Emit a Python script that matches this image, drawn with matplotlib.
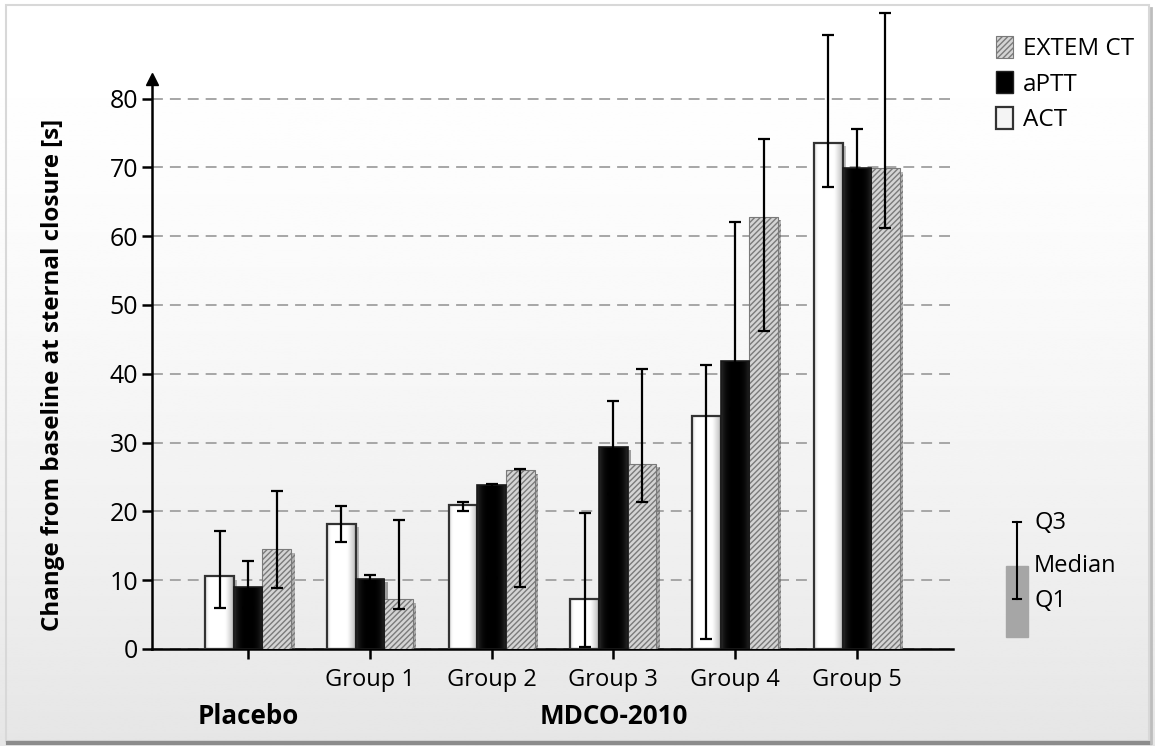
import numpy as np
import matplotlib.pyplot as plt
import matplotlib.patheffects as pe
from matplotlib.patches import Rectangle, Patch
from matplotlib.lines import Line2D

plt.rcParams['font.family'] = ['Open Sans', 'DejaVu Sans']
plt.rcParams['hatch.linewidth'] = 1.0

# medians and quartiles
groups = ['', 'Group 1', 'Group 2', 'Group 3', 'Group 4', 'Group 5']
act = np.array([10.6, 18.2, 21.0, 7.2, 33.8, 73.6])
act_q1 = np.array([5.9, 15.6, 20.0, 0.3, 1.4, 67.2])
act_q3 = np.array([17.1, 20.8, 21.3, 19.8, 41.3, 89.3])
aptt = np.array([9.0, 10.2, 23.8, 29.4, 41.8, 69.9])
aptt_q1 = np.array([5.9, 9.8, 10.3, 22.6, 34.9, 63.6])
aptt_q3 = np.array([12.8, 10.7, 24.0, 36.1, 62.1, 75.6])
extem = np.array([14.5, 7.2, 26.0, 26.9, 62.8, 69.9])
extem_q1 = np.array([8.8, 5.8, 9.0, 21.4, 46.2, 61.2])
extem_q3 = np.array([22.9, 18.8, 26.2, 40.7, 74.1, 92.4])

W, H = 1155, 746
fig = plt.figure(figsize=(W / 100, H / 100), dpi=100)

# background gradient + frame
bg = fig.add_axes([0, 0, 1, 1], zorder=-10)
t = np.linspace(0, 1, 256)
grad = 1 - 0.10 * t ** 1.6
bg.imshow(np.tile(grad[:, None], (1, 2)), cmap='gray', vmin=0, vmax=1,
          aspect='auto', extent=[0, 1, 0, 1])
bg.set_xlim(0, 1)
bg.set_ylim(0, 1)
bg.axis('off')
bg.add_patch(Rectangle((6 / W, 1 - 741 / H), 1143 / W, 736 / H, fill=False,
                       edgecolor='#d8d8d8', lw=1.5))
bg.plot([8 / W, 1150 / W], [1 - 743 / H] * 2, color='#8c8c8c', lw=3)
bg.plot([1151 / W] * 2, [1 - 743 / H, 1 - 8 / H], color='#bdbdbd', lw=2)

ax = fig.add_axes([152 / W, 97 / H, 801 / W, 93 * 6.88 / H])
ax.set_facecolor('none')
x = np.arange(len(groups))
w = 0.235
err = dict(elinewidth=1.6, capthick=1.6, ecolor='black', capsize=4, zorder=6)
shadow = [pe.SimplePatchShadow(offset=(2.5, -2.5), alpha=0.35), pe.Normal()]

b1 = ax.bar(x - w, act, w, color='white', edgecolor='none', zorder=3,
            yerr=[act - act_q1, act_q3 - act], error_kw=err)
b2 = ax.bar(x, aptt, w, color='black', edgecolor='none', zorder=3,
            yerr=[aptt - aptt_q1, aptt_q3 - aptt], error_kw=err)
b3 = ax.bar(x + w, extem, w, color='#d4d4d4', edgecolor='#7a7a7a', lw=0.8,
            hatch='//////', yerr=[extem - extem_q1, extem_q3 - extem],
            error_kw=err, zorder=3)
for b in list(b1) + list(b2) + list(b3):
    b.set_path_effects(shadow)

# bevel-like shading inside the solid bars
u = np.linspace(0, 1, 64)
white_prof = 1 - 0.28 * np.clip((u - 0.68) / 0.32, 0, 1) ** 1.3 \
    - 0.12 * np.clip((0.14 - u) / 0.14, 0, 1)
black_prof = 0.16 * np.abs(2 * u - 1) ** 3
for bars, prof in ((b1, white_prof), (b2, black_prof)):
    for b in bars:
        x0, y0, bw, bh = b.get_x(), b.get_y(), b.get_width(), b.get_height()
        im = ax.imshow(prof[None, :], cmap='gray', vmin=0, vmax=1,
                       extent=[x0, x0 + bw, y0, y0 + bh], aspect='auto',
                       interpolation='bilinear', zorder=3.1)
        im.set_clip_path(b)
ax.bar(x - w, act, w, fill=False, edgecolor='#333333', lw=1.6, zorder=3.2)
ax.bar(x, aptt, w, fill=False, edgecolor='#1a1a1a', lw=1.2, zorder=3.2)

ax.set_xlim(-0.79, 5.79)
ax.set_ylim(0, 93)
ax.set_yticks(np.arange(0, 81, 10))
ax.set_xticks(x)
ax.set_xticklabels(groups)
ax.set_axisbelow(True)
ax.yaxis.grid(True, ls=(0, (5.6, 3.6)), color='#a6a6a6', lw=1.4)
ax.tick_params(axis='y', direction='out', length=7, width=1.8, labelsize=18, pad=3)
ax.tick_params(axis='x', direction='out', length=7, width=1.8, labelsize=17, pad=7)
for s in ['top', 'right']:
    ax.spines[s].set_visible(False)
ax.spines['left'].set_linewidth(1.8)
ax.spines['bottom'].set_linewidth(1.8)
ax.spines['left'].set_bounds(0, 82.5)
ax.plot([0], [82.9], marker='^', ms=9, color='black',
        transform=ax.get_yaxis_transform(), clip_on=False)

ax.text(-0.1236, 0.428, 'Change from baseline at sternal closure [s]',
        transform=ax.transAxes, rotation=90, ha='center', va='center',
        fontsize=17.4, fontweight='bold')
tr = ax.get_xaxis_transform()
ax.text(0, -0.106, 'Placebo', transform=tr, ha='center', va='center',
        fontsize=18.7, fontweight='bold')
ax.text(3, -0.106, 'MDCO-2010', transform=tr, ha='center', va='center',
        fontsize=18.7, fontweight='bold')

handles = [Patch(facecolor='#d4d4d4', edgecolor='#7a7a7a', hatch='//////', lw=0.8),
           Patch(facecolor='black', edgecolor='#222222'),
           Patch(facecolor='#f4f4f4', edgecolor='#333333', lw=1.6)]
fig.legend(handles, ['EXTEM CT', 'aPTT', 'ACT'], loc='upper left',
           bbox_to_anchor=(996 / W, 1 - 36 / H), frameon=False, fontsize=17.5,
           handlelength=0.7, handleheight=1.0, handletextpad=0.4,
           labelspacing=0.42, borderaxespad=0, borderpad=0)

# quartile key
fig.add_artist(Rectangle((1006 / W, 1 - 637 / H), 22 / W, 71 / H,
                         transform=fig.transFigure, color='#a6a6a6'))
fig.add_artist(Line2D([1017 / W] * 2, [1 - 522 / H, 1 - 599 / H],
                      transform=fig.transFigure, color='black', lw=1.5))
for yy in (522, 599):
    fig.add_artist(Line2D([1013 / W, 1021 / W], [1 - yy / H] * 2,
                          transform=fig.transFigure, color='black', lw=1.5))
for txt, yy in (('Q3', 523), ('Median', 566), ('Q1', 601)):
    fig.text(1034 / W, 1 - yy / H, txt, ha='left', va='center', fontsize=17)

fig.savefig('out.png', dpi=100)
